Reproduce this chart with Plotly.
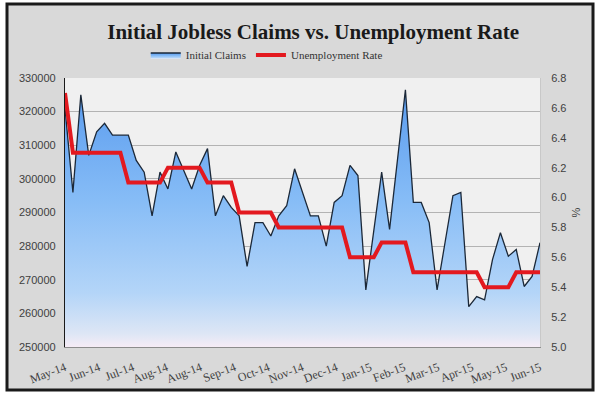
import pandas as pd
import plotly.graph_objects as go

# Weekly observations (week-ending dates)
start_date = "2014-05-03"
n_weeks = 61
dates = pd.date_range(start_date, periods=n_weeks, freq="7D")

initial_claims = [
    321000, 296000, 325000, 307000, 314000, 316500, 313000, 313000, 313000, 305500,
    302000, 289000, 302000, 297000, 308000, 302500, 297000, 304000, 309000, 289000,
    295000, 291500, 289000, 274000, 287000, 287000, 283000, 289000, 292000, 303000,
    296000, 289000, 289000, 280000, 293000, 295000, 304000, 301000, 267000, 284000,
    302000, 285000, 305000, 326500, 293000, 293000, 287000, 267000, 281000, 295000,
    296000, 262000, 265000, 264000, 276000, 284000, 277000, 279000, 268000, 271000,
    281000,
]

unemployment_rate = [
    6.7,
    6.3, 6.3, 6.3, 6.3, 6.3, 6.3, 6.3,
    6.1, 6.1, 6.1, 6.1, 6.1,
    6.2, 6.2, 6.2, 6.2, 6.2,
    6.1, 6.1, 6.1, 6.1,
    5.9, 5.9, 5.9, 5.9, 5.9,
    5.8, 5.8, 5.8, 5.8, 5.8, 5.8, 5.8, 5.8, 5.8,
    5.6, 5.6, 5.6, 5.6,
    5.7, 5.7, 5.7, 5.7,
    5.5, 5.5, 5.5, 5.5, 5.5, 5.5, 5.5, 5.5, 5.5,
    5.4, 5.4, 5.4, 5.4,
    5.5, 5.5, 5.5, 5.5,
]

tick_labels = ["May-14", "Jun-14", "Jul-14", "Aug-14", "Aug-14", "Sep-14", "Oct-14",
               "Nov-14", "Dec-14", "Jan-15", "Feb-15", "Mar-15", "Apr-15", "May-15", "Jun-15"]
tick_step_days = 30
tick_vals = [pd.Timestamp(start_date) + pd.Timedelta(days=tick_step_days * i)
             for i in range(len(tick_labels))]

fig = go.Figure()

fig.add_trace(go.Scatter(
    x=dates, y=initial_claims, name="Initial Claims", mode="lines",
    line=dict(color="#1b2838", width=1.3),
    fill="tozeroy",
    fillcolor="#7fb5f3",
    fillgradient=dict(
        type="vertical",
        colorscale=[[0, "#f6ecf6"], [0.05, "#dde6f5"], [0.2, "#b4d5f8"],
                    [0.55, "#86bcf6"], [1, "#5598ee"]],
        start=250000, stop=330000,
    ),
))

fig.add_trace(go.Scatter(
    x=dates, y=unemployment_rate, name="Unemployment Rate", mode="lines",
    line=dict(color="#e3191f", width=4),
    yaxis="y2",
))

serif = "Liberation Serif"
sans = "Liberation Sans"

fig.update_layout(
    width=600, height=399,
    margin=dict(l=65, r=60, t=78, b=52),
    paper_bgcolor="white",
    plot_bgcolor="#f0f0f0",
    title=dict(
        text="Initial Jobless Claims vs. Unemployment Rate",
        font=dict(family=serif, size=21, color="#1a1a1a", weight="bold"),
        x=0.522, xref="container", xanchor="center",
        y=1 - 32 / 399, yref="container", yanchor="middle",
    ),
    legend=dict(
        orientation="h", x=0.17, xanchor="left", y=1.0855, yanchor="middle",
        font=dict(family=serif, size=11, color="#333333"),
        bgcolor="rgba(0,0,0,0)", itemwidth=30, tracegroupgap=0,
    ),
    showlegend=True,
    xaxis=dict(
        type="date",
        range=[tick_vals[0], tick_vals[-1]],
        tickvals=tick_vals, ticktext=tick_labels,
        tickangle=-21,
        tickfont=dict(family=serif, size=12, color="#404040"),
        ticklabelstandoff=8,
        showgrid=False, zeroline=False,
        showline=True, linecolor="#8c8c8c", linewidth=1,
        ticks="",
    ),
    yaxis=dict(
        range=[250000, 330000], dtick=10000, tickformat="d",
        tickfont=dict(family=sans, size=11, color="#404040"),
        ticklabelstandoff=6,
        showgrid=True, gridcolor="#b3b3b3", gridwidth=1,
        zeroline=False,
        showline=True, linecolor="#1a1a1a", linewidth=1.2,
        ticks="",
    ),
    yaxis2=dict(
        overlaying="y", side="right",
        range=[5.0, 6.8], dtick=0.2, tickformat=".1f",
        tickfont=dict(family=sans, size=11, color="#404040"),
        ticklabelstandoff=8,
        showgrid=False, zeroline=False,
        showline=True, linecolor="#c8c8c8", linewidth=1,
        title=dict(text="%", font=dict(family=sans, size=11, color="#404040"), standoff=6),
        ticks="",
    ),
    shapes=[
        dict(type="rect", xref="paper", yref="paper",
             x0=-0.1221, x1=1.1116, y0=-0.1599, y1=1.2751,
             fillcolor="#d9d9d9", line=dict(color="#1a1a1a", width=3), layer="below"),
        dict(type="rect", xref="paper", yref="paper",
             x0=0, x1=1, y0=0, y1=1,
             fillcolor="#f0f0f0", line=dict(width=0), layer="below"),
    ],
)

fig.write_html("out.html")
